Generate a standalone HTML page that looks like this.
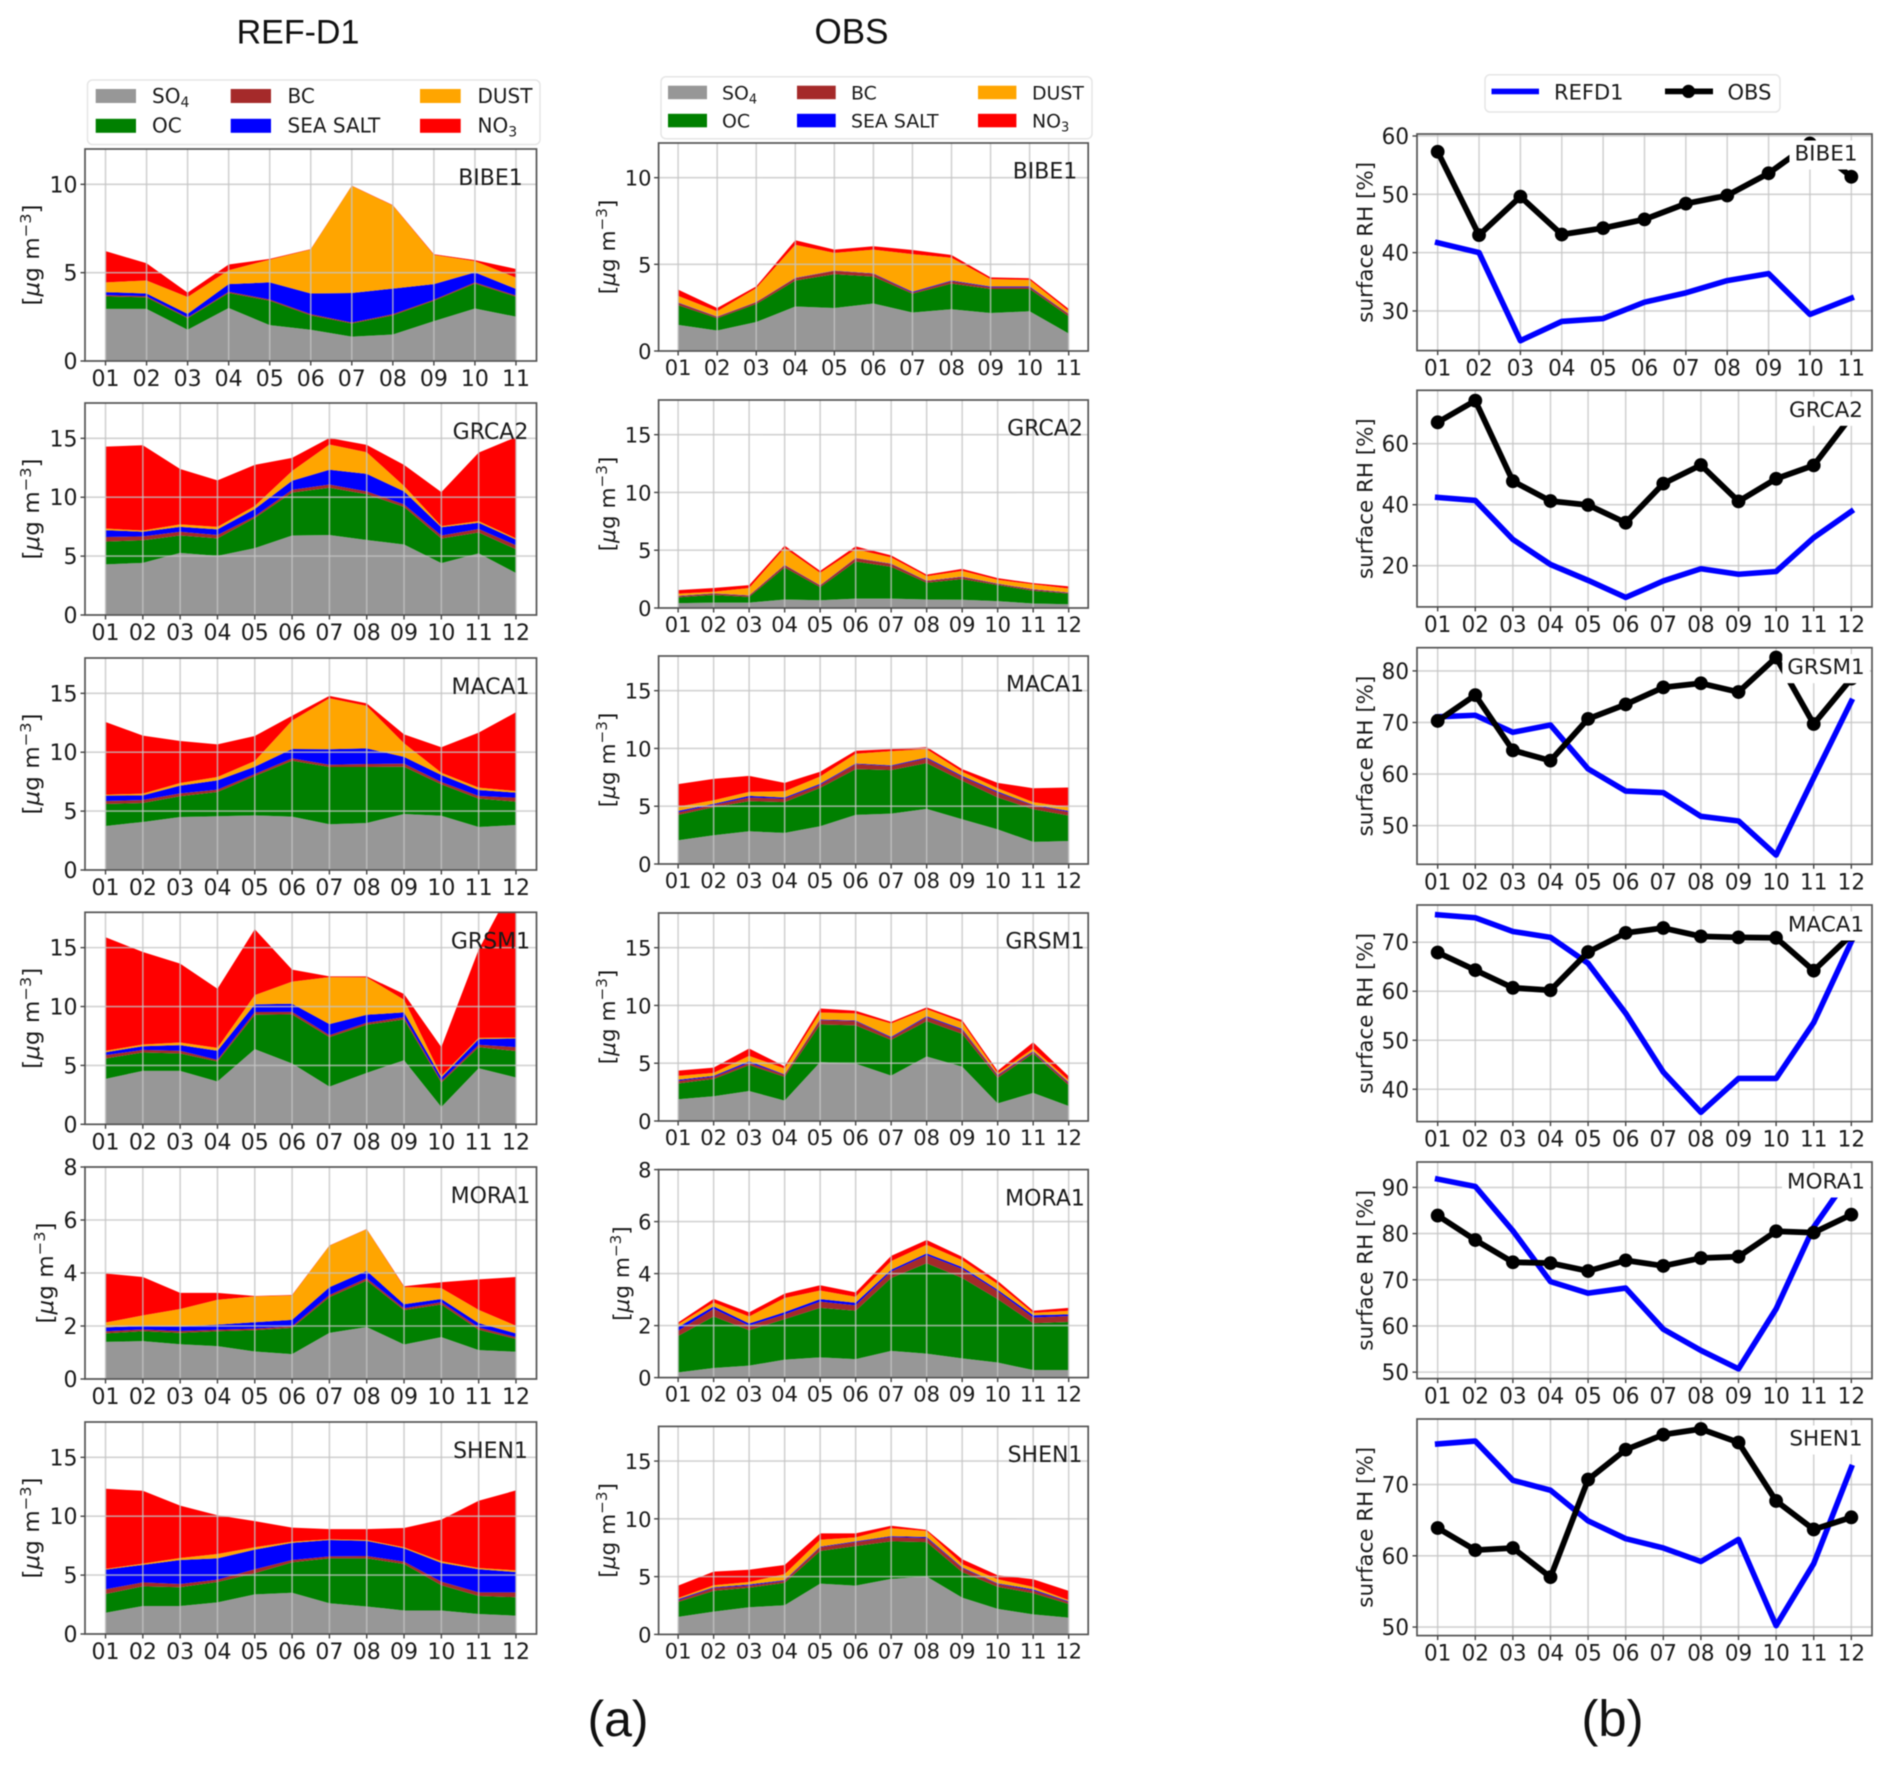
<!DOCTYPE html>
<html lang="en">
<head>
<meta charset="utf-8">
<title>REF-D1 vs OBS aerosol composition and surface RH</title>
<style>
html,body{margin:0;padding:0;background:#fff;}
#figure{display:block;width:1892px;height:1767px;font-family:"DejaVu Sans","Liberation Sans",sans-serif;fill:#1a1a1a;filter:blur(0.45px);}
.serif-title{font-family:"Liberation Sans",sans-serif;fill:#111;}
</style>
</head>
<body>
<svg id="figure" xmlns="http://www.w3.org/2000/svg" width="1892" height="1767" viewBox="0 0 1892 1767">
  <rect x="0" y="0" width="1892" height="1767" fill="#fff"/>
  <text class="serif-title" x="298" y="43.7" font-size="34" text-anchor="middle">REF-D1</text>
  <text class="serif-title" x="851.5" y="43.7" font-size="35" text-anchor="middle">OBS</text>
  <text class="serif-title" x="618" y="1736" font-size="50" text-anchor="middle">(a)</text>
  <text class="serif-title" x="1612.5" y="1736" font-size="51" text-anchor="middle">(b)</text>

  <g font-size="20">
    <rect x="87.5" y="80" width="452.5" height="64.5" rx="5" fill="#fff" stroke="#e6e6e6" stroke-width="1.5"/>
    <rect x="95.7" y="89" width="40.3" height="14" fill="#979797"/>
    <text x="152" y="103">SO<tspan font-size="14" dy="4">4</tspan></text>
    <rect x="95.7" y="118.8" width="40.3" height="14" fill="#008000"/>
    <text x="152" y="132.6">OC</text>
    <rect x="230.7" y="89" width="40.3" height="14" fill="#a52a2a"/>
    <text x="287.5" y="103">BC</text>
    <rect x="230.7" y="118.8" width="40.3" height="14" fill="#0000ff"/>
    <text x="287.5" y="132.6">SEA SALT</text>
    <rect x="420" y="89" width="40.7" height="14" fill="#ffa500"/>
    <text x="477.5" y="103">DUST</text>
    <rect x="420" y="118.8" width="40.7" height="14" fill="#ff0000"/>
    <text x="477.5" y="132.6">NO<tspan font-size="14" dy="4">3</tspan></text>
  </g>

  <g font-size="18.9">
    <rect x="661" y="76.7" width="431" height="62" rx="5" fill="#fff" stroke="#e6e6e6" stroke-width="1.5"/>
    <rect x="668" y="85.7" width="39" height="13.5" fill="#979797"/>
    <text x="722" y="99.5">SO<tspan font-size="13" dy="4">4</tspan></text>
    <rect x="668" y="113.8" width="39" height="13.5" fill="#008000"/>
    <text x="722" y="127.5">OC</text>
    <rect x="797" y="85.7" width="38.7" height="13.5" fill="#a52a2a"/>
    <text x="851" y="99.5">BC</text>
    <rect x="797" y="113.8" width="38.7" height="13.5" fill="#0000ff"/>
    <text x="851" y="127.5">SEA SALT</text>
    <rect x="978" y="85.7" width="38.4" height="13.5" fill="#ffa500"/>
    <text x="1032" y="99.5">DUST</text>
    <rect x="978" y="113.8" width="38.4" height="13.5" fill="#ff0000"/>
    <text x="1032" y="127.5">NO<tspan font-size="13" dy="4">3</tspan></text>
  </g>

  <g font-size="21">
    <rect x="1485" y="74.8" width="295" height="37.2" rx="5" fill="#fff" stroke="#e6e6e6" stroke-width="1.5"/>
    <line x1="1491.5" y1="91.4" x2="1539" y2="91.4" stroke="#0000ff" stroke-width="5.6"/>
    <text x="1554" y="99.3">REFD1</text>
    <line x1="1665" y1="91.4" x2="1713" y2="91.4" stroke="#000" stroke-width="5.8"/>
    <circle cx="1688.5" cy="91.4" r="6.6" fill="#000"/>
    <text x="1727.5" y="99.3">OBS</text>
  </g>

  <g id="panels"></g>
</svg>

<script>
// Shared axis categories and tick labels
const months11 = ['01','02','03','04','05','06','07','08','09','10','11'];
const months12 = ['01','02','03','04','05','06','07','08','09','10','11','12'];
const ticksTo10 = [0,5,10];
const ticksTo15 = [0,5,10,15];
const ticksTo6 = [0,2,4,6,8];

// REF-D1 stacked composition: each array is the top of that band in the stack (ug m-3)
const refBibe1So4 = [2.95,2.95,1.77,3.0,2.03,1.77,1.38,1.5,2.26,2.97,2.51];
const refBibe1Oc = [3.66,3.6,2.42,3.85,3.41,2.58,2.12,2.58,3.41,4.38,3.64];
const refBibe1Bc = [3.73,3.67,2.47,3.92,3.48,2.65,2.18,2.65,3.47,4.45,3.71];
const refBibe1Sea = [3.9,3.82,2.67,4.35,4.45,3.82,3.85,4.1,4.35,5.02,4.08];
const refBibe1Dust = [4.45,4.56,3.62,5.14,5.74,6.31,9.91,8.8,6.01,5.65,4.72];
const refBibe1No3 = [6.22,5.53,3.87,5.46,5.78,6.33,9.93,8.82,6.04,5.71,5.21];

const refGrca2So4 = [4.3,4.43,5.27,5.02,5.68,6.75,6.79,6.37,5.99,4.4,5.23,3.57];
const refGrca2Oc = [6.23,6.34,6.75,6.51,8.24,10.39,10.8,10.25,9.18,6.5,7.0,5.58];
const refGrca2Bc = [6.62,6.68,7.07,6.79,8.38,10.63,11.08,10.5,9.39,6.75,7.3,5.92];
const refGrca2Sea = [7.2,7.07,7.48,7.27,9.0,11.4,12.33,11.98,10.5,7.45,7.83,6.4];
const refGrca2Dust = [7.34,7.17,7.69,7.48,9.25,12.23,14.48,13.82,10.95,7.55,7.97,6.5];
const refGrca2No3 = [14.3,14.41,12.4,11.43,12.75,13.34,15.03,14.44,12.75,10.43,13.79,15.1];

const refMaca1So4 = [3.74,4.08,4.5,4.56,4.64,4.53,3.88,3.99,4.76,4.61,3.65,3.82];
const refMaca1Oc = [5.6,5.69,6.26,6.62,7.98,9.28,8.75,8.75,8.77,7.27,6.06,5.8];
const refMaca1Bc = [5.86,5.94,6.51,6.82,8.15,9.48,8.94,9.0,9.03,7.47,6.28,6.14];
const refMaca1Sea = [6.31,6.34,7.16,7.61,8.77,10.27,10.25,10.33,9.6,8.07,6.79,6.57];
const refMaca1Dust = [6.4,6.48,7.39,7.9,9.26,12.68,14.58,13.93,10.76,8.26,6.99,6.71];
const refMaca1No3 = [12.57,11.41,10.95,10.67,11.38,13.1,14.78,14.15,11.52,10.42,11.66,13.39];

const refGrsm1So4 = [3.86,4.54,4.54,3.63,6.38,5.16,3.2,4.37,5.44,1.47,4.76,3.97];
const refGrsm1Oc = [5.59,6.1,6.01,5.33,9.3,9.33,7.4,8.45,8.9,3.54,6.55,6.21];
const refGrsm1Bc = [5.87,6.32,6.24,5.47,9.53,9.55,7.57,8.62,9.1,3.69,6.75,6.55];
const refGrsm1Sea = [6.12,6.63,6.72,6.24,10.18,10.24,8.51,9.3,9.5,3.97,7.23,7.29];
const refGrsm1Dust = [6.24,6.78,6.95,6.49,10.97,12.11,12.5,12.48,10.58,4.11,7.34,7.37];
const refGrsm1No3 = [15.88,14.63,13.64,11.51,16.56,13.13,12.56,12.56,11.06,6.55,14.83,20.8];

const refMora1So4 = [1.4,1.43,1.31,1.24,1.04,0.94,1.74,1.96,1.3,1.58,1.09,1.03];
const refMora1Oc = [1.72,1.8,1.74,1.8,1.84,1.93,3.09,3.71,2.6,2.81,1.86,1.51];
const refMora1Bc = [1.8,1.87,1.81,1.86,1.9,1.99,3.17,3.8,2.67,2.9,1.95,1.58];
const refMora1Sea = [1.95,2.0,1.98,2.05,2.14,2.23,3.46,4.08,2.82,3.02,2.11,1.72];
const refMora1Dust = [2.13,2.4,2.64,2.99,3.12,3.15,5.03,5.65,3.47,3.43,2.61,2.01];
const refMora1No3 = [3.98,3.85,3.25,3.25,3.13,3.17,5.04,5.66,3.5,3.65,3.76,3.85];

const refShen1So4 = [1.8,2.38,2.38,2.68,3.36,3.5,2.61,2.34,2.0,2.0,1.7,1.56];
const refShen1Oc = [3.4,4.04,3.97,4.41,5.16,6.08,6.42,6.42,5.94,4.14,3.23,3.12];
const refShen1Bc = [3.8,4.38,4.24,4.62,5.5,6.28,6.59,6.62,6.15,4.45,3.53,3.53];
const refShen1Sea = [5.47,5.87,6.28,6.42,7.16,7.74,7.98,7.91,7.27,6.04,5.5,5.26];
const refShen1Dust = [5.53,5.98,6.45,6.79,7.37,7.84,8.05,7.98,7.37,6.18,5.6,5.4];
const refShen1No3 = [12.33,12.16,10.9,10.08,9.58,9.03,8.9,8.9,9.0,9.71,11.31,12.19];

// OBS stacked composition: top of each band
const obsBibe1So4 = [1.51,1.18,1.67,2.57,2.48,2.74,2.22,2.41,2.19,2.29,1.01];
const obsBibe1Oc = [2.64,1.89,2.71,4.06,4.43,4.29,3.3,3.89,3.58,3.58,2.0];
const obsBibe1Bc = [2.78,1.96,2.81,4.2,4.62,4.46,3.37,4.03,3.68,3.68,2.12];
const obsBibe1Sea = [2.8,1.98,2.83,4.22,4.64,4.48,3.42,4.07,3.72,3.72,2.14];
const obsBibe1Dust = [3.18,2.29,3.63,6.13,5.66,5.85,5.59,5.38,4.15,4.1,2.31];
const obsBibe1No3 = [3.54,2.48,3.73,6.39,5.85,6.04,5.83,5.54,4.25,4.2,2.43];

const obsGrca2So4 = [0.42,0.46,0.46,0.74,0.67,0.81,0.81,0.74,0.71,0.6,0.39,0.32];
const obsGrca2Oc = [0.92,1.13,0.95,3.5,1.8,4.02,3.56,2.19,2.5,1.98,1.48,1.24];
const obsGrca2Bc = [1.02,1.24,1.06,3.7,1.94,4.3,3.81,2.33,2.68,2.08,1.59,1.31];
const obsGrca2Sea = [1.05,1.27,1.09,3.73,1.97,4.33,3.84,2.36,2.71,2.11,1.62,1.34];
const obsGrca2Dust = [1.24,1.41,1.73,5.19,3.04,5.08,4.38,2.75,3.21,2.44,2.05,1.69];
const obsGrca2No3 = [1.55,1.73,1.98,5.4,3.21,5.33,4.55,2.89,3.39,2.58,2.15,1.87];

const obsMaca1So4 = [2.05,2.49,2.83,2.69,3.27,4.25,4.36,4.77,3.87,3.0,1.91,1.99];
const obsMaca1Oc = [4.25,4.91,5.43,5.35,6.59,8.21,8.12,8.73,7.2,5.75,4.74,4.19];
const obsMaca1Bc = [4.48,5.12,5.75,5.66,6.85,8.64,8.47,9.13,7.54,6.18,5.06,4.51];
const obsMaca1Sea = [4.6,5.2,5.9,5.75,6.94,8.7,8.53,9.22,7.63,6.27,5.12,4.6];
const obsMaca1Dust = [4.97,5.52,6.24,6.3,7.57,9.54,9.77,9.94,7.98,6.56,5.35,4.91];
const obsMaca1No3 = [6.91,7.37,7.63,7.02,7.98,9.8,9.94,10.12,8.21,7.02,6.56,6.62];

const obsGrsm1So4 = [1.88,2.14,2.6,1.76,5.09,4.97,3.93,5.58,4.71,1.53,2.43,1.3];
const obsGrsm1Oc = [3.24,3.64,4.83,3.82,8.35,8.27,7.02,8.64,7.54,3.73,5.84,3.09];
const obsGrsm1Bc = [3.47,3.82,5.03,3.99,8.73,8.64,7.2,8.99,7.89,3.93,5.98,3.29];
const obsGrsm1Sea = [3.57,3.9,5.17,4.04,8.78,8.7,7.28,9.07,7.97,3.99,6.05,3.35];
const obsGrsm1Dust = [3.9,4.16,5.64,4.54,9.39,9.31,8.44,9.68,8.55,4.13,6.27,3.53];
const obsGrsm1No3 = [4.36,4.62,6.27,4.74,9.74,9.54,8.58,9.83,8.73,4.34,6.82,3.87];

const obsMora1So4 = [0.2,0.37,0.46,0.69,0.78,0.71,1.03,0.92,0.74,0.58,0.29,0.29];
const obsMora1Oc = [1.6,2.35,1.82,2.25,2.68,2.57,3.83,4.4,3.83,3.02,2.09,2.14];
const obsMora1Bc = [1.8,2.65,2.0,2.43,2.92,2.78,4.08,4.71,4.18,3.32,2.31,2.37];
const obsMora1Sea = [1.94,2.74,2.08,2.52,3.02,2.88,4.15,4.78,4.25,3.38,2.4,2.43];
const obsMora1Dust = [2.05,2.89,2.35,3.06,3.35,3.11,4.48,5.11,4.52,3.6,2.49,2.57];
const obsMora1No3 = [2.12,3.03,2.51,3.23,3.55,3.28,4.68,5.29,4.65,3.72,2.57,2.68];

const obsShen1So4 = [1.52,1.97,2.35,2.52,4.39,4.22,4.8,5.01,3.18,2.21,1.73,1.45];
const obsShen1Oc = [2.8,3.77,4.04,4.46,7.22,7.64,8.05,7.98,5.39,4.11,3.56,2.63];
const obsShen1Bc = [2.94,4.01,4.22,4.63,7.54,7.98,8.43,8.33,5.74,4.36,3.8,2.8];
const obsShen1Sea = [3.04,4.08,4.32,4.7,7.6,8.05,8.5,8.43,5.8,4.42,3.9,2.87];
const obsShen1Dust = [3.15,4.25,4.53,5.22,8.19,8.4,9.19,8.95,6.08,4.77,4.11,2.97];
const obsShen1No3 = [4.22,5.43,5.6,6.01,8.74,8.74,9.4,9.05,6.5,5.12,4.77,3.77];

// Surface RH (%)
const rhBibe1Ref = [41.7,40,24.9,28.2,28.7,31.5,33.1,35.2,36.4,29.4,32.2];
const rhBibe1Obs = [57.3,43,49.6,43.1,44.2,45.7,48.4,49.8,53.6,58.7,53];
const rhGrca2Ref = [42.4,41.4,28.6,20.4,15.2,9.6,15,19,17.2,18.1,29.2,37.8];
const rhGrca2Obs = [67,74.1,47.7,41.2,39.9,34.1,46.9,53,41.1,48.5,52.9,69];
const rhGrsm1Ref = [71.1,71.4,68.1,69.5,61,56.7,56.4,51.8,50.9,44.3,59.3,74.1];
const rhGrsm1Obs = [70.3,75.3,64.6,62.6,70.7,73.5,76.8,77.6,75.9,82.6,69.7,78.5];
const rhMaca1Ref = [75.6,75,72.2,71,65.7,55.5,43.5,35.3,42.2,42.2,53.6,70.1];
const rhMaca1Obs = [67.9,64.3,60.7,60.2,68,71.9,72.9,71.2,71,70.9,64.2,71.5];
const rhMora1Ref = [91.8,90.2,80.6,69.6,67.1,68.2,59.3,54.7,50.7,63.7,81.4,93];
const rhMora1Obs = [83.9,78.6,73.8,73.6,71.9,74.2,73,74.7,75,80.5,80.2,84.1];
const rhShen1Ref = [75.7,76.1,70.6,69.2,64.9,62.4,61.1,59.2,62.3,50.2,58.9,72.4];
const rhShen1Obs = [63.9,60.8,61.1,57,70.7,74.9,77,77.8,75.9,67.7,63.7,65.4];

const rhTicksBibe1 = [30,40,50,60];
const rhTicksGrca2 = [20,40,60];
const rhTicksGrsm1 = [50,60,70,80];
const rhTicksMaca1 = [40,50,60,70];
const rhTicksMora1 = [50,60,70,80,90];
const rhTicksShen1 = [50,60,70];

const bandNames = ['so4','oc','bc','sea-salt','dust','no3'];
const bandColors = ['#979797','#008000','#a52a2a','#0000ff','#ffa500','#ff0000'];

const stackPanels = [
  {col:'ref',row:0,site:'BIBE1',cats:months11,yMax:12,ticks:ticksTo10,bands:[refBibe1So4,refBibe1Oc,refBibe1Bc,refBibe1Sea,refBibe1Dust,refBibe1No3]},
  {col:'ref',row:1,site:'GRCA2',cats:months12,yMax:18,ticks:ticksTo15,bands:[refGrca2So4,refGrca2Oc,refGrca2Bc,refGrca2Sea,refGrca2Dust,refGrca2No3]},
  {col:'ref',row:2,site:'MACA1',cats:months12,yMax:18,ticks:ticksTo15,bands:[refMaca1So4,refMaca1Oc,refMaca1Bc,refMaca1Sea,refMaca1Dust,refMaca1No3]},
  {col:'ref',row:3,site:'GRSM1',cats:months12,yMax:18,ticks:ticksTo15,bands:[refGrsm1So4,refGrsm1Oc,refGrsm1Bc,refGrsm1Sea,refGrsm1Dust,refGrsm1No3]},
  {col:'ref',row:4,site:'MORA1',cats:months12,yMax:8,ticks:ticksTo6,bands:[refMora1So4,refMora1Oc,refMora1Bc,refMora1Sea,refMora1Dust,refMora1No3]},
  {col:'ref',row:5,site:'SHEN1',cats:months12,yMax:18,ticks:ticksTo15,bands:[refShen1So4,refShen1Oc,refShen1Bc,refShen1Sea,refShen1Dust,refShen1No3]},
  {col:'obs',row:0,site:'BIBE1',cats:months11,yMax:12,ticks:ticksTo10,bands:[obsBibe1So4,obsBibe1Oc,obsBibe1Bc,obsBibe1Sea,obsBibe1Dust,obsBibe1No3]},
  {col:'obs',row:1,site:'GRCA2',cats:months12,yMax:18,ticks:ticksTo15,bands:[obsGrca2So4,obsGrca2Oc,obsGrca2Bc,obsGrca2Sea,obsGrca2Dust,obsGrca2No3]},
  {col:'obs',row:2,site:'MACA1',cats:months12,yMax:18,ticks:ticksTo15,bands:[obsMaca1So4,obsMaca1Oc,obsMaca1Bc,obsMaca1Sea,obsMaca1Dust,obsMaca1No3]},
  {col:'obs',row:3,site:'GRSM1',cats:months12,yMax:18,ticks:ticksTo15,bands:[obsGrsm1So4,obsGrsm1Oc,obsGrsm1Bc,obsGrsm1Sea,obsGrsm1Dust,obsGrsm1No3]},
  {col:'obs',row:4,site:'MORA1',cats:months12,yMax:8,ticks:ticksTo6,bands:[obsMora1So4,obsMora1Oc,obsMora1Bc,obsMora1Sea,obsMora1Dust,obsMora1No3]},
  {col:'obs',row:5,site:'SHEN1',cats:months12,yMax:18,ticks:ticksTo15,bands:[obsShen1So4,obsShen1Oc,obsShen1Bc,obsShen1Sea,obsShen1Dust,obsShen1No3]}
];

const rhPanels = [
  {col:'rh',row:0,site:'BIBE1',cats:months11,yMin:23.2,yMax:60.34,ticks:rhTicksBibe1,ref:rhBibe1Ref,obs:rhBibe1Obs},
  {col:'rh',row:1,site:'GRCA2',cats:months12,yMin:6.5,yMax:77.5,ticks:rhTicksGrca2,ref:rhGrca2Ref,obs:rhGrca2Obs},
  {col:'rh',row:2,site:'GRSM1',cats:months12,yMin:42.5,yMax:84.5,ticks:rhTicksGrsm1,ref:rhGrsm1Ref,obs:rhGrsm1Obs},
  {col:'rh',row:3,site:'MACA1',cats:months12,yMin:33.4,yMax:77.6,ticks:rhTicksMaca1,ref:rhMaca1Ref,obs:rhMaca1Obs},
  {col:'rh',row:4,site:'MORA1',cats:months12,yMin:48.6,yMax:95.5,ticks:rhTicksMora1,ref:rhMora1Ref,obs:rhMora1Obs},
  {col:'rh',row:5,site:'SHEN1',cats:months12,yMin:48.8,yMax:79.2,ticks:rhTicksShen1,ref:rhShen1Ref,obs:rhShen1Obs}
];

// Page layout of the three panel columns
const layout = {
  ref:{left:85,right:536.5,tops:[149,403,658,912.3,1167,1422],height:212,tickFont:22,stretch:1.02,xTickGap:25,yTickRight:77.5,ylabelX:39,ylabelXMora:53,siteX:490.5,siteDy:36,ylabelFont:22,ylabelStretch:1.05},
  obs:{left:658.6,right:1088.2,tops:[143,400,656,913,1169.6,1426.4],height:208,tickFont:21,stretch:1.02,xTickGap:24,yTickRight:651.5,ylabelX:615,ylabelXMora:629,siteX:1045,siteDy:35.7,ylabelFont:21,ylabelStretch:1.03},
  rh:{left:1417,right:1872,tops:[134,390.3,647.7,905,1162,1419],height:216.6,tickFont:21.5,stretch:1.05,xTickGap:25,yTickRight:1409,ylabelX:1372.5,ylabelXMora:1372.5,siteX:1826,siteDy:26.5,ylabelFont:21,ylabelStretch:1.02}
};

const NS = 'http://www.w3.org/2000/svg';
const root = document.getElementById('panels');

function draw(parent, tag, attrs, name, interactable) {
  const el = document.createElementNS(NS, tag);
  for (const k in attrs) el.setAttributeNS(null, k, attrs[k]);
  
  
  parent.appendChild(el);
  return el;
}

function makeAxes(panel, idPrefix) {
  const L = layout[panel.col];
  const top = L.tops[panel.row];
  const bottom = top + L.height;
  const n = panel.cats.length;
  const yMin = panel.yMin === undefined ? 0 : panel.yMin;
  const margin = (L.right - L.left) * 0.05 / 1.1;
  const xScale = i => L.left + margin + (L.right - L.left - 2 * margin) * i / (n - 1);
  const yScale = v => bottom - (v - yMin) / (panel.yMax - yMin) * L.height;
  const slug = panel.col + '-' + panel.site.toLowerCase();
  const g = draw(root, 'g', {}, slug + '-panel', 'false');
  const defs = draw(g, 'defs', {}, slug + '-defs', 'false');
  const clip = draw(defs, 'clipPath', {id:'clip-' + idPrefix}, slug + '-clip', 'false');
  draw(clip, 'rect', {x:L.left, y:top, width:L.right - L.left, height:L.height}, slug + '-clip-rect', 'false');
  const plot = draw(g, 'g', {'clip-path':'url(#clip-' + idPrefix + ')'}, slug + '-plot-area', 'false');
  return {L, top, bottom, n, xScale, yScale, slug, g, plot};
}

function drawGrid(ax, panel) {
  panel.cats.forEach((c, i) => {
    draw(ax.plot, 'line', {x1:ax.xScale(i), x2:ax.xScale(i), y1:ax.top, y2:ax.bottom, stroke:'#c4c4c4', 'stroke-width':1.6, opacity:0.75}, ax.slug + '-x-grid-' + c, 'false');
  });
  panel.ticks.forEach(t => {
    draw(ax.plot, 'line', {x1:ax.L.left, x2:ax.L.right, y1:ax.yScale(t), y2:ax.yScale(t), stroke:'#c4c4c4', 'stroke-width':1.6, opacity:0.75}, ax.slug + '-y-grid-' + t, 'false');
  });
}

function drawFrame(ax, panel) {
  const L = ax.L;
  draw(ax.g, 'rect', {x:L.left, y:ax.top, width:L.right - L.left, height:L.height, fill:'none', stroke:'#555', 'stroke-width':1.7}, ax.slug + '-frame', 'false');
  panel.cats.forEach((c, i) => {
    const x = ax.xScale(i);
    draw(ax.g, 'line', {x1:x, x2:x, y1:ax.bottom, y2:ax.bottom + 4.5, stroke:'#444', 'stroke-width':1.4}, ax.slug + '-x-tick-' + c, 'false');
    const t = draw(ax.g, 'text', {'font-size':L.tickFont, 'text-anchor':'middle', transform:'translate(' + x + ',' + (ax.bottom + L.xTickGap) + ') scale(1,' + L.stretch + ')'}, ax.slug + '-x-label-' + c, 'false');
    t.textContent = c;
  });
  panel.ticks.forEach(v => {
    const y = ax.yScale(v);
    draw(ax.g, 'line', {x1:L.left - 4.5, x2:L.left, y1:y, y2:y, stroke:'#444', 'stroke-width':1.4}, ax.slug + '-y-tick-' + v, 'false');
    const t = draw(ax.g, 'text', {'font-size':L.tickFont, 'text-anchor':'end', transform:'translate(' + L.yTickRight + ',' + (y + 8) + ') scale(1,' + L.stretch + ')'}, ax.slug + '-y-label-' + v, 'false');
    t.textContent = v;
  });
}

function drawYLabel(ax, panel) {
  const L = ax.L;
  const cy = ax.top + L.height / 2;
  const x = panel.site === 'MORA1' ? L.ylabelXMora : L.ylabelX;
  const t = draw(ax.g, 'text', {'font-size':L.ylabelFont, 'text-anchor':'middle', transform:'translate(' + x + ',' + cy + ') rotate(-90) scale(' + L.ylabelStretch + ',1)'}, ax.slug + '-y-axis-title', 'false');
  if (panel.col === 'rh') {
    t.textContent = 'surface RH [%]';
  } else {
    const s0 = draw(t, 'tspan', {}, ax.slug + '-y-title-open', 'false');
    s0.textContent = '[';
    const s1 = draw(t, 'tspan', {'font-style':'italic'}, ax.slug + '-y-title-mu', 'false');
    s1.textContent = 'μ';
    const s2 = draw(t, 'tspan', {}, ax.slug + '-y-title-unit', 'false');
    s2.textContent = 'g m';
    const s3 = draw(t, 'tspan', {dy:-8, 'font-size':L.ylabelFont * 0.7}, ax.slug + '-y-title-exponent', 'false');
    s3.textContent = '−3';
    const s4 = draw(t, 'tspan', {dy:8}, ax.slug + '-y-title-close', 'false');
    s4.textContent = ']';
  }
}

stackPanels.forEach((panel, idx) => {
  const ax = makeAxes(panel, 's' + idx);
  panel.bands.forEach((topVals, b) => {
    const lower = b === 0 ? null : panel.bands[b - 1];
    const up = topVals.map((v, i) => ax.xScale(i) + ',' + ax.yScale(v));
    const down = topVals.map((v, i) => ax.xScale(i) + ',' + ax.yScale(lower ? lower[i] : 0)).reverse();
    draw(ax.plot, 'polygon', {points:up.concat(down).join(' '), fill:bandColors[b]}, ax.slug + '-band-' + bandNames[b], 'false');
  });
  drawGrid(ax, panel);
  drawFrame(ax, panel);
  drawYLabel(ax, panel);
  const label = draw(ax.g, 'text', {'font-size':22, 'text-anchor':'middle', x:ax.L.siteX, y:ax.top + ax.L.siteDy}, ax.slug + '-site-label', 'false');
  label.textContent = panel.site;
});

rhPanels.forEach((panel, idx) => {
  const ax = makeAxes(panel, 'r' + idx);
  drawGrid(ax, panel);
  const toPts = vals => vals.map((v, i) => ax.xScale(i) + ',' + ax.yScale(v)).join(' ');
  draw(ax.plot, 'polyline', {points:toPts(panel.ref), fill:'none', stroke:'#0000ff', 'stroke-width':5.6, 'stroke-linejoin':'round', 'stroke-linecap':'square'}, ax.slug + '-refd1-line', 'false');
  draw(ax.plot, 'polyline', {points:toPts(panel.obs), fill:'none', stroke:'#000', 'stroke-width':5.8, 'stroke-linejoin':'round', 'stroke-linecap':'square'}, ax.slug + '-obs-line', 'false');
  panel.obs.forEach((v, i) => {
    draw(ax.plot, 'circle', {cx:ax.xScale(i), cy:ax.yScale(v), r:6.9, fill:'#000'}, ax.slug + '-obs-point-' + panel.cats[i], 'false');
  });
  const bg = draw(ax.g, 'rect', {fill:'#fff'}, ax.slug + '-site-label-background', 'false');
  const label = draw(ax.g, 'text', {'font-size':21.5, 'text-anchor':'middle', x:ax.L.siteX, y:ax.top + ax.L.siteDy}, ax.slug + '-site-label', 'false');
  label.textContent = panel.site;
  const box = label.getBBox();
  bg.setAttributeNS(null, 'x', box.x - 5);
  bg.setAttributeNS(null, 'y', box.y - 1);
  bg.setAttributeNS(null, 'width', box.width + 10);
  bg.setAttributeNS(null, 'height', box.height + 4);
  drawFrame(ax, panel);
  drawYLabel(ax, panel);
});
</script>
</body>
</html>
